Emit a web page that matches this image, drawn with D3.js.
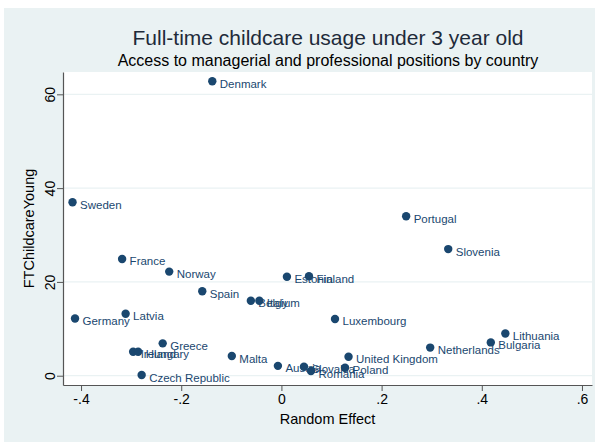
<!DOCTYPE html>
<html>
<head>
<meta charset="utf-8">
<script src="https://cdn.jsdelivr.net/npm/d3@7/dist/d3.min.js"></script>
<style>
  html, body { margin: 0; padding: 0; background: #ffffff; }
  svg { display: block; font-family: "Liberation Sans", Arial, Helvetica, sans-serif; }
</style>
</head>
<body>
<svg id="chart" width="595" height="442"></svg>
<script>
// Country-level data: random effect vs. full-time childcare use (under 3)
const countries = [
  "Denmark", "Sweden", "Portugal", "Slovenia", "France", "Norway",
  "Estonia", "Finland", "Spain", "Belgium", "Italy", "Luxembourg",
  "Germany", "Latvia", "Greece", "Ireland", "Hungary", "Malta",
  "Czech Republic", "Austria", "Slovakia", "Romania", "Poland",
  "United Kingdom", "Netherlands", "Bulgaria", "Lithuania"
];
const randomEffect = [
  -0.138, -0.417, 0.249, 0.333, -0.318, -0.224,
   0.011,  0.055, -0.158, -0.061, -0.044, 0.107,
  -0.412, -0.311, -0.237, -0.296, -0.286, -0.099,
  -0.279, -0.007, 0.045, 0.059, 0.127,
   0.134, 0.297, 0.418, 0.447
];
const ftChildcareYoung = [
  62.8, 37.0, 34.0, 27.0, 24.9, 22.2,
  21.1, 21.2, 18.0, 16.0, 16.0, 12.1,
  12.2, 13.2, 6.9, 5.1, 5.1, 4.2,
  0.15, 2.1, 1.9, 1.0, 1.7,
  4.05, 6.0, 7.1, 9.0
];
const xTicks = [-0.4, -0.2, 0, 0.2, 0.4, 0.6];
const xTickLabels = ["-.4", "-.2", "0", ".2", ".4", ".6"];
const yTicks = [0, 20, 40, 60];
const yTickLabels = ["0", "20", "40", "60"];

const titleText = "Full-time childcare usage under 3 year old";
const subtitleText = "Access to managerial and professional positions by country";
const xTitle = "Random Effect";
const yTitle = "FTChildcareYoung";

const data = countries.map((c, i) => ({ name: c, x: randomEffect[i], y: ftChildcareYoung[i] }));

const svg = d3.select("#chart");
const W = 595, H = 442;
const plot = { left: 63, right: 592, top: 72, bottom: 385 };
const markColor = "#1a476f";

// outer graph region
svg.append("rect").attr("x", 4).attr("y", 8).attr("width", W - 4).attr("height", H - 8)
  .attr("fill", "#eaf2f3");

// plot region
svg.append("rect").attr("x", plot.left).attr("y", plot.top)
  .attr("width", plot.right - plot.left).attr("height", plot.bottom - plot.top)
  .attr("fill", "#ffffff");

const x = d3.scaleLinear().domain([-0.436, 0.62]).range([plot.left, plot.right]);
const y = d3.scaleLinear().domain([-1.98, 64.76]).range([plot.bottom, plot.top]);

// horizontal grid lines
svg.append("g").selectAll("line").data(yTicks).join("line")
  .attr("x1", plot.left).attr("x2", plot.right)
  .attr("y1", d => y(d)).attr("y2", d => y(d))
  .attr("stroke", "#eaf2f3").attr("stroke-width", 1.2);

// x axis
const xAxis = d3.axisBottom(x).tickValues(xTicks)
  .tickFormat((d, i) => xTickLabels[i]).tickSize(6).tickSizeOuter(0).tickPadding(3);
const gx = svg.append("g").attr("transform", `translate(0,${plot.bottom})`).call(xAxis);
gx.select(".domain").attr("stroke", "#555").attr("stroke-width", 1.2);
gx.selectAll(".tick line").attr("stroke", "#555");
gx.selectAll(".tick text").attr("font-size", 14).attr("fill", "#000")
  .attr("font-family", "'Liberation Sans', Arial, sans-serif");

// y axis with rotated tick labels
const yAxis = d3.axisLeft(y).tickValues(yTicks)
  .tickFormat((d, i) => yTickLabels[i]).tickSize(6).tickSizeOuter(0);
const gy = svg.append("g").attr("transform", `translate(${plot.left},0)`).call(yAxis);
gy.select(".domain").attr("stroke", "#555").attr("stroke-width", 1.2);
gy.selectAll(".tick line").attr("stroke", "#555");
gy.selectAll(".tick text")
  .attr("font-size", 14).attr("fill", "#000")
  .attr("font-family", "'Liberation Sans', Arial, sans-serif")
  .attr("x", null).attr("dy", null)
  .attr("text-anchor", "middle")
  .attr("transform", "translate(-13,0) rotate(-90)")
  .attr("y", 0).attr("dy", "0.35em");

// axis titles
svg.append("text")
  .attr("x", (plot.left + plot.right) / 2).attr("y", 424)
  .attr("text-anchor", "middle").attr("font-size", 14.5).attr("fill", "#000")
  .text(xTitle);
svg.append("text")
  .attr("transform", `translate(34,${(plot.top + plot.bottom) / 2}) rotate(-90)`)
  .attr("text-anchor", "middle").attr("font-size", 14.5).attr("fill", "#000")
  .text(yTitle);

// titles
svg.append("text")
  .attr("x", 328).attr("y", 45)
  .attr("text-anchor", "middle").attr("font-size", 21).attr("fill", "#1e2b3a")
  .text(titleText);
svg.append("text")
  .attr("x", 328).attr("y", 66)
  .attr("text-anchor", "middle").attr("font-size", 16).attr("fill", "#000")
  .text(subtitleText);

// markers and labels (labels sit at 3 o'clock; close neighbours overlap as in the source plot)
const pts = svg.append("g");
pts.selectAll("circle").data(data).join("circle")
  .attr("cx", d => x(d.x)).attr("cy", d => y(d.y)).attr("r", 4.2)
  .attr("fill", markColor);
pts.selectAll("text").data(data).join("text")
  .attr("x", d => x(d.x) + 7.5).attr("y", d => y(d.y) + 2.5)
  .attr("dy", "0.35em")
  .attr("font-size", 11.5).attr("fill", markColor)
  .text(d => d.name);
</script>
</body>
</html>
